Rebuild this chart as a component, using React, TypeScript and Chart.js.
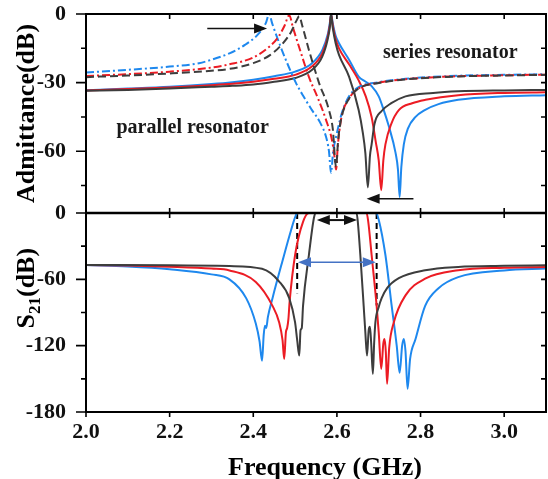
import React, { useEffect, useRef } from 'react';
import { Chart, registerables } from 'chart.js';

Chart.register(...registerables);

// ---------- Axis ticks ----------
const xTicks = [2.0, 2.2, 2.4, 2.6, 2.8, 3.0];
const admTicks = [0, -15, -30, -45, -60, -75];
const s21Ticks = [0, -30, -60, -90, -120, -150, -180];

// ---------- Top panel: admittance (dB), [frequency GHz, dB] ----------
// parallel resonator (dashed / dash-dot)
const parBlack = [
  [2.0, -27.6], [2.1, -26.9], [2.2, -26], [2.3, -24.8], [2.343, -24], [2.4, -21.5], [2.44, -18], [2.47, -13],
  [2.49, -8], [2.503, -3], [2.51, -1], [2.517, -5], [2.533, -15.7], [2.557, -30], [2.581, -42], [2.59, -50],
  [2.598, -66.8], [2.603, -55], [2.61, -46], [2.629, -37], [2.652, -32.5], [2.7, -30.2], [2.764, -28.6],
  [2.89, -27.3], [3.0, -26.9], [3.1, -26.6],
];
const parRed = [
  [2.0, -27.1], [2.1, -26.3], [2.2, -25.2], [2.3, -23.4], [2.343, -22], [2.4, -19], [2.44, -14], [2.46, -10],
  [2.475, -5], [2.486, -0.5], [2.495, -6], [2.514, -17], [2.533, -27.5], [2.555, -37], [2.574, -46.3],
  [2.588, -55], [2.594, -62], [2.598, -68], [2.602, -58], [2.61, -46], [2.629, -37], [2.652, -32.5],
  [2.7, -30], [2.764, -28.5], [2.89, -27.2], [3.0, -26.8], [3.1, -26.5],
];
const parBlue = [
  [2.0, -25.6], [2.1, -24.4], [2.2, -23], [2.27, -21.5], [2.3, -20], [2.343, -17.2], [2.38, -13.5],
  [2.414, -8.4], [2.43, -4], [2.438, 0], [2.445, -4], [2.462, -12.7], [2.48, -21], [2.502, -30.1],
  [2.52, -36], [2.54, -41.9], [2.56, -47.5], [2.574, -53.7], [2.581, -60], [2.586, -69.4], [2.591, -60],
  [2.598, -53.7], [2.612, -43.2], [2.629, -36], [2.652, -32], [2.7, -29.8], [2.764, -28.3], [2.89, -27],
  [3.0, -26.6], [3.1, -26.3],
];
// series resonator (solid)
const serBlack = [
  [2.0, -33.6], [2.1, -33.2], [2.2, -32.6], [2.3, -31.8], [2.35, -31.4], [2.4, -30.8], [2.45, -29.6],
  [2.5, -28], [2.54, -24.5], [2.565, -18.6], [2.578, -11], [2.583, -6], [2.586, 0], [2.59, -6],
  [2.597, -12.8], [2.605, -17.9], [2.629, -27.4], [2.652, -42], [2.662, -52], [2.668, -60.7], [2.674, -75.8],
  [2.679, -62], [2.683, -57], [2.69, -48], [2.707, -42.4], [2.73, -39], [2.764, -36], [2.83, -34.5],
  [2.89, -33.8], [3.0, -33.4], [3.1, -33.2],
];
const serRed = [
  [2.0, -33.4], [2.1, -32.8], [2.2, -32.1], [2.3, -31.1], [2.35, -30.5], [2.4, -29.6], [2.45, -28.3],
  [2.5, -26.6], [2.54, -23], [2.565, -17.2], [2.578, -10], [2.583, -5], [2.586, 0], [2.59, -5],
  [2.597, -11], [2.605, -15], [2.629, -22], [2.652, -29], [2.669, -36], [2.683, -45], [2.693, -56],
  [2.7, -64], [2.706, -77], [2.711, -64], [2.716, -57], [2.73, -48], [2.748, -42], [2.78, -39],
  [2.812, -37.5], [2.89, -35.5], [3.0, -34.5], [3.1, -34.2],
];
const serBlue = [
  [2.0, -33.3], [2.1, -32.6], [2.2, -31.8], [2.3, -30.6], [2.35, -29.8], [2.4, -28.7], [2.45, -27.2],
  [2.5, -25.2], [2.54, -21.6], [2.565, -15.8], [2.578, -9], [2.583, -4], [2.586, 0], [2.59, -4],
  [2.597, -9.5], [2.605, -12.8], [2.629, -20], [2.652, -27.4], [2.668, -29.5], [2.683, -31.5], [2.7, -36],
  [2.712, -42], [2.724, -49], [2.74, -60.5], [2.746, -68], [2.75, -80], [2.754, -67], [2.76, -57],
  [2.77, -50], [2.788, -45], [2.81, -42], [2.843, -39.4], [2.89, -37.5], [3.0, -36], [3.1, -35.5],
];

// ---------- Bottom panel: S21 (dB) ----------
const s21Black = [
  [2.0, -47], [2.2, -47.3], [2.343, -48], [2.421, -50.5], [2.462, -62], [2.486, -77], [2.5, -99],
  [2.505, -115], [2.51, -129], [2.513, -106], [2.516, -104], [2.519, -84], [2.533, -38], [2.545, -4.5],
  [2.549, 0], [2.647, 0], [2.65, -8], [2.656, -38], [2.664, -84], [2.668, -108], [2.672, -129],
  [2.676, -106], [2.679, -103], [2.682, -118], [2.686, -145.5], [2.689, -118], [2.692, -99], [2.7, -85],
  [2.707, -77], [2.72, -68], [2.748, -59], [2.811, -51.8], [2.89, -48.8], [3.0, -47.8], [3.1, -47.3],
];
const s21Red = [
  [2.0, -47], [2.1, -47.6], [2.2, -48.6], [2.3, -50.3], [2.343, -52], [2.406, -62.4], [2.446, -84],
  [2.462, -99], [2.47, -115], [2.474, -132], [2.478, -108], [2.481, -104], [2.484, -96], [2.487, -80],
  [2.5, -38], [2.519, -8], [2.533, 0], [2.671, 0], [2.675, -8], [2.683, -38], [2.695, -84], [2.7, -108],
  [2.706, -141], [2.711, -118], [2.714, -114], [2.717, -126], [2.72, -154.5], [2.725, -122], [2.736, -99],
  [2.764, -74.5], [2.811, -59.4], [2.89, -51.8], [3.0, -49.5], [3.1, -48.8],
];
const s21Blue = [
  [2.0, -47], [2.1, -48.3], [2.2, -50.8], [2.3, -55.5], [2.343, -60], [2.383, -77], [2.406, -100],
  [2.415, -116], [2.421, -133.6], [2.425, -110], [2.428, -102], [2.431, -104], [2.435, -94], [2.446, -77],
  [2.469, -44.5], [2.49, -16], [2.502, -2], [2.506, 0], [2.694, 0], [2.7, -6], [2.716, -38], [2.731, -84],
  [2.743, -120], [2.75, -144.5], [2.756, -120], [2.76, -114], [2.764, -125], [2.769, -159], [2.775, -132],
  [2.788, -114], [2.811, -84], [2.843, -68], [2.89, -58], [3.0, -52], [3.1, -50.3],
];
// dashed band-edge markers
const edgeLeft = [[2.505, 0], [2.505, -72.7]];
const edgeRight = [[2.695, 0], [2.695, -83.6]];

// ---------- Annotations (data coordinates) ----------
const textParallel = { label: 'parallel resonator', x: 2.255, y: -49.8 };
const textSeries = { label: 'series resonator', x: 2.871, y: -17 };
const arrowsTop = [
  { from: [2.29, -6.3], to: [2.433, -6.3], both: false },
  { from: [2.783, -80.8], to: [2.671, -80.8], both: false },
];
const arrowsBottom = [
  { from: [2.552, -6.4], to: [2.648, -6.4], both: true, color: '#111111', width: 2 },
  { from: [2.507, -44.5], to: [2.693, -44.5], both: true, color: '#4472C4', width: 1.5 },
];

const BLACK = '#3d3d3d';
const RED = '#ec1c24';
const BLUE = '#1e88ee';
const SERIF = '"Liberation Serif", "Times New Roman", serif';

const toXY = (arr: number[][]) => arr.map(([x, y]) => ({ x, y }));

function drawHead(ctx: CanvasRenderingContext2D, x: number, y: number, dir: number, len: number, half: number) {
  ctx.beginPath();
  ctx.moveTo(x, y);
  ctx.lineTo(x - dir * len, y - half);
  ctx.lineTo(x - dir * len, y + half);
  ctx.closePath();
  ctx.fill();
}

const framePlugin = {
  id: 'framePlugin',
  afterDatasetsDraw(chart: any) {
    const { ctx, chartArea: ca, scales } = chart;
    const xs = scales.x;
    const yA = scales.yA;
    const yS = scales.yS;
    ctx.save();
    ctx.strokeStyle = '#000';
    ctx.fillStyle = '#000';
    // frame
    ctx.lineWidth = 2;
    ctx.setLineDash([]);
    ctx.strokeRect(ca.left, ca.top, ca.right - ca.left, ca.bottom - ca.top);
    const mid = yS.getPixelForValue(0);
    ctx.lineWidth = 2.5;
    ctx.beginPath();
    ctx.moveTo(ca.left, mid);
    ctx.lineTo(ca.right, mid);
    ctx.stroke();
    // y ticks
    ctx.lineWidth = 1.6;
    const yTick = (scale: any, vals: number[], majorStep: number) => {
      vals.forEach((v) => {
        const py = scale.getPixelForValue(v);
        const len = v % majorStep === 0 ? 10 : 5;
        ctx.beginPath();
        ctx.moveTo(ca.left - len, py);
        ctx.lineTo(ca.left, py);
        ctx.moveTo(ca.right, py);
        ctx.lineTo(ca.right - 5, py);
        ctx.stroke();
      });
    };
    yTick(yA, admTicks, 30);
    yTick(yS, s21Ticks, 60);
    // x ticks
    xTicks.forEach((v) => {
      const px = xs.getPixelForValue(v);
      ctx.beginPath();
      ctx.moveTo(px, ca.bottom);
      ctx.lineTo(px, ca.bottom + 5);
      ctx.moveTo(px, ca.top);
      ctx.lineTo(px, ca.top + 5);
      ctx.moveTo(px, mid - 5);
      ctx.lineTo(px, mid + 5);
      ctx.stroke();
    });
    // arrows
    const drawArrow = (a: any, sy: any, color: string, width: number) => {
      const x1 = xs.getPixelForValue(a.from[0]);
      const y1 = sy.getPixelForValue(a.from[1]);
      const x2 = xs.getPixelForValue(a.to[0]);
      const y2 = sy.getPixelForValue(a.to[1]);
      const dir = Math.sign(x2 - x1);
      ctx.strokeStyle = color;
      ctx.fillStyle = color;
      ctx.lineWidth = width;
      ctx.beginPath();
      ctx.moveTo(x1 + (a.both ? dir * 8 : 0), y1);
      ctx.lineTo(x2 - dir * 8, y2);
      ctx.stroke();
      drawHead(ctx, x2, y2, dir, 13, 5);
      if (a.both) drawHead(ctx, x1, y1, -dir, 13, 5);
    };
    arrowsTop.forEach((a) => drawArrow(a, yA, '#111111', 1.5));
    arrowsBottom.forEach((a) => drawArrow(a, yS, a.color, a.width));
    // text labels
    ctx.fillStyle = '#1a1a1a';
    ctx.font = `bold 20px ${SERIF}`;
    ctx.textAlign = 'center';
    ctx.textBaseline = 'middle';
    [textParallel, textSeries].forEach((t) => {
      ctx.fillText(t.label, xs.getPixelForValue(t.x), yA.getPixelForValue(t.y));
    });
    // axis titles
    ctx.fillStyle = '#000';
    ctx.font = `bold 26px ${SERIF}`;
    ctx.textAlign = 'center';
    ctx.textBaseline = 'alphabetic';
    ctx.fillText('Frequency (GHz)', 325, 475);

    ctx.save();
    ctx.translate(34, (yA.top + yA.bottom) / 2);
    ctx.rotate(-Math.PI / 2);
    ctx.fillText('Admittance(dB)', 0, 0);
    ctx.restore();

    ctx.save();
    ctx.translate(34, yS.getPixelForValue(-68));
    ctx.rotate(-Math.PI / 2);
    ctx.textAlign = 'left';
    const big = `bold 26px ${SERIF}`;
    const small = `bold 17px ${SERIF}`;
    ctx.font = big;
    const wS = ctx.measureText('S').width;
    const wP = ctx.measureText('(dB)').width;
    ctx.font = small;
    const w21 = ctx.measureText('21').width;
    let cx = -(wS + w21 + wP) / 2;
    ctx.font = big;
    ctx.fillText('S', cx, 0);
    cx += wS;
    ctx.font = small;
    ctx.fillText('21', cx, 6);
    cx += w21;
    ctx.font = big;
    ctx.fillText('(dB)', cx, 0);
    ctx.restore();

    ctx.restore();
  },
};

export default function App() {
  const ref = useRef<HTMLCanvasElement | null>(null);
  useEffect(() => {
    if (!ref.current) return;
    const line = (data: number[][], color: string, yAxisID: string, dash: number[] = [], width = 2) => ({
      data: toXY(data),
      borderColor: color,
      backgroundColor: color,
      borderWidth: width,
      borderDash: dash,
      yAxisID,
      pointRadius: 0,
      fill: false,
      cubicInterpolationMode: 'monotone' as const,
    });
    const tickFont = { family: SERIF, size: 22, weight: 'bold' as const };
    const fitY = (s: any) => {
      s.width = 86;
      s.paddingTop = 0;
      s.paddingBottom = 0;
    };
    const chart = new Chart(ref.current, {
      type: 'line',
      data: {
        datasets: [
          line(parBlack, BLACK, 'yA', [8, 4]),
          line(parRed, RED, 'yA', [8, 3, 2, 3]),
          line(parBlue, BLUE, 'yA', [8, 3, 2, 3]),
          line(serBlack, BLACK, 'yA'),
          line(serRed, RED, 'yA'),
          line(serBlue, BLUE, 'yA'),
          line(s21Black, BLACK, 'yS'),
          line(s21Red, RED, 'yS'),
          line(s21Blue, BLUE, 'yS'),
          { ...line(edgeLeft, '#000', 'yS', [6, 4], 2), cubicInterpolationMode: 'default' as const, tension: 0 },
          { ...line(edgeRight, '#000', 'yS', [6, 4], 2), cubicInterpolationMode: 'default' as const, tension: 0 },
        ],
      },
      options: {
        animation: false,
        responsive: false,
        maintainAspectRatio: false,
        layout: { padding: { top: 14, right: 2, left: 0, bottom: 0 } },
        plugins: { legend: { display: false }, tooltip: { enabled: false } },
        elements: { point: { radius: 0 } },
        scales: {
          x: {
            type: 'linear',
            min: 2.0,
            max: 3.1,
            afterBuildTicks: (s: any) => {
              s.ticks = xTicks.map((v) => ({ value: v }));
            },
            afterFit: (s: any) => {
              s.height = 67;
              s.paddingLeft = 0;
              s.paddingRight = 0;
            },
            ticks: {
              font: tickFont,
              color: '#111',
              padding: 7,
              maxRotation: 0,
              autoSkip: false,
              callback: (v: any) => Number(v).toFixed(1),
            },
            grid: { display: false, drawTicks: false },
            border: { display: false },
          },
          yS: {
            type: 'linear',
            position: 'left',
            stack: 'panels',
            stackWeight: 1,
            min: -180,
            max: 0,
            afterBuildTicks: (s: any) => {
              s.ticks = s21Ticks.map((v) => ({ value: v }));
            },
            afterFit: fitY,
            ticks: {
              font: tickFont,
              color: '#111',
              padding: 20,
              autoSkip: false,
              callback: (v: any) => (Number(v) % 60 === 0 ? String(v) : ''),
            },
            grid: { display: false, drawTicks: false },
            border: { display: false },
          },
          yA: {
            type: 'linear',
            position: 'left',
            stack: 'panels',
            stackWeight: 1,
            min: -87,
            max: 0,
            afterBuildTicks: (s: any) => {
              s.ticks = admTicks.map((v) => ({ value: v }));
            },
            afterFit: fitY,
            ticks: {
              font: tickFont,
              color: '#111',
              padding: 20,
              autoSkip: false,
              callback: (v: any) => (Number(v) % 30 === 0 ? String(v) : ''),
            },
            grid: { display: false, drawTicks: false },
            border: { display: false },
          },
        },
      },
      plugins: [framePlugin],
    });
    return () => chart.destroy();
  }, []);
  return (
    <div style={{ position: 'fixed', left: 0, top: 0, width: 548, height: 479, background: '#fff' }}>
      <canvas ref={ref} width={548} height={479} style={{ width: 548, height: 479, display: 'block' }} />
    </div>
  );
}
